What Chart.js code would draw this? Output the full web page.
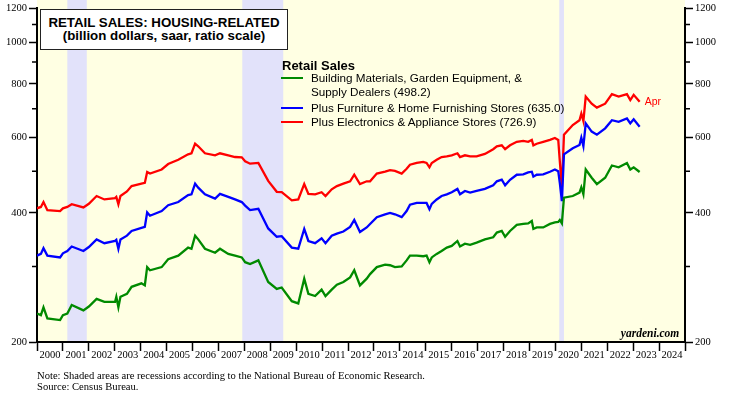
<!DOCTYPE html>
<html>
<head>
<meta charset="utf-8">
<script src="https://cdn.jsdelivr.net/npm/chart.js@4/dist/chart.umd.min.js"></script>
<style>
html,body{margin:0;padding:0;background:#fff;}
#wrap{position:relative;width:733px;height:399px;overflow:hidden;}
#c{position:absolute;left:0;top:0;}
.t{position:absolute;white-space:nowrap;line-height:14px;height:14px;}
#title{position:absolute;left:40px;top:9px;width:248px;height:41px;box-sizing:border-box;border:1.5px solid #222;background:#fff;
  font:bold 13.3px "Liberation Sans",Arial,sans-serif;text-align:center;line-height:13.5px;padding-top:5.75px;color:#000;}
.leg{font:11.7px "Liberation Sans",Arial,sans-serif;color:#000;}
.sw{position:absolute;left:281px;width:22px;height:2px;}
.note{font:10.6px "Liberation Serif","Times New Roman",serif;color:#000;}
</style>
</head>
<body>
<div id="wrap">
<canvas id="c" width="733" height="399"></canvas>
<div id="title">RETAIL SALES: HOUSING-RELATED<br>(billion dollars, saar, ratio scale)</div>
<div class="t" style="left:282px;top:58px;font:bold 13px 'Liberation Sans',Arial,sans-serif;">Retail Sales</div>
<div class="sw" style="top:77.3px;background:#008a00;"></div>
<div class="t leg" style="left:311px;top:71.3px;">Building Materials, Garden Equipment, &amp;</div>
<div class="t leg" style="left:311px;top:84.7px;">Supply Dealers (498.2)</div>
<div class="sw" style="top:106.7px;background:#0000ff;"></div>
<div class="t leg" style="left:311px;top:100.7px;">Plus Furniture &amp; Home Furnishing Stores (635.0)</div>
<div class="sw" style="top:120.7px;background:#ff0000;"></div>
<div class="t leg" style="left:311px;top:114.7px;">Plus Electronics &amp; Appliance Stores (726.9)</div>
<div class="t" style="right:53.7px;top:327px;font:italic bold 11.5px 'Liberation Serif','Times New Roman',serif;">yardeni.com</div>
<div class="t note" style="left:37px;top:369.7px;">Note: Shaded areas are recessions according to the National Bureau of Economic Research.</div>
<div class="t note" style="left:37px;top:381.3px;">Source: Census Bureau.</div>
</div>
<script>
// ---- data (decimal year, billion dollars saar) ----
const dates = [
  2000.00,2000.15,2000.25,2000.40,2000.89,2001.00,2001.17,2001.34,2001.79,2002.00,
  2002.30,2002.60,2003.01,2003.06,2003.14,2003.22,2003.47,2003.65,2004.03,2004.16,
  2004.25,2004.36,2004.81,2005.06,2005.45,2005.83,2005.96,2006.10,2006.22,2006.48,
  2006.87,2007.06,2007.38,2007.64,2007.90,2008.03,2008.22,2008.54,2008.92,2009.25,
  2009.44,2009.83,2010.08,2010.31,2010.47,2010.73,2010.98,2011.13,2011.37,2011.57,
  2011.82,2012.08,2012.24,2012.46,2012.72,2012.85,2013.11,2013.43,2013.62,2013.81,
  2014.07,2014.26,2014.39,2014.65,2014.90,2015.03,2015.14,2015.23,2015.42,2015.61,
  2015.81,2016.00,2016.22,2016.32,2016.51,2016.71,2016.96,2017.28,2017.60,2017.74,
  2017.93,2018.06,2018.25,2018.51,2018.76,2018.95,2019.09,2019.15,2019.28,2019.53,
  2019.79,2019.98,2020.11,2020.17,2020.25,2020.33,2020.67,2020.93,2021.00,2021.08,
  2021.17,2021.40,2021.60,2021.92,2022.18,2022.44,2022.76,2022.89,2023.02,2023.25
];
const building = [
  233,231,241,227,225,231,233,244,237,242,
  252,248,248,255,241,255,259,269,274,271,
  299,294,299,312,318,332,330,354,347,330,
  323,330,321,318,315,307,304,310,276,266,
  268,249,246,281,259,256,265,256,265,272,
  276,283,294,271,281,288,299,303,302,299,
  300,310,318,318,317,318,307,315,321,326,
  332,335,344,334,339,337,341,347,351,360,
  363,352,363,375,377,378,383,367,370,370,
  377,380,381,385,378,434,438,446,459,442,
  505,483,467,483,516,511,523,505,511,498.2
];
const furniture = [
  318,321,331,318,315,322,326,334,326,333,
  347,340,344,346,330,347,354,363,369,371,
  401,394,404,417,424,440,442,468,458,442,
  432,443,436,430,424,416,406,409,368,352,
  353,332,330,367,344,340,349,340,354,358,
  362,371,385,361,370,377,391,397,400,397,
  391,404,418,422,422,422,408,420,430,438,
  442,447,455,442,450,446,450,455,464,474,
  478,464,478,491,492,497,499,486,491,492,
  499,505,500,470,426,548,566,576,599,572,
  647,619,609,630,658,652,664,647,661,635.0
];
const electronics = [
  410,413,424,406,404,410,413,419,412,420,
  438,430,433,436,419,438,449,462,468,470,
  498,494,505,520,532,548,551,580,572,551,
  545,551,545,540,539,528,521,523,475,448,
  447,428,430,467,443,442,447,438,454,462,
  468,474,491,467,474,474,494,499,503,501,
  494,507,518,523,526,523,511,523,532,540,
  542,545,551,540,545,542,542,549,563,572,
  575,563,575,586,589,586,592,575,580,586,
  592,598,592,528,458,609,641,658,682,655,
  747,719,704,719,757,747,757,733,754,726.9
];
const years = [2000,2001,2002,2003,2004,2005,2006,2007,2008,2009,2010,2011,2012,
  2013,2014,2015,2016,2017,2018,2019,2020,2021,2022,2023,2024,2025];
const yMajor = [200,400,600,800,1000,1200];
const yMinor = [300,500,700,900,1100];
const recStart = [2001.17, 2007.92, 2020.15];
const recEnd   = [2001.92, 2009.50, 2020.33];
const lastLabel = 'Apr';

const pts = s => dates.map((d,i)=>({x:d, y:s[i]}));
const tickFont = {family:'"Liberation Serif","Times New Roman",serif', size:10.5};

const deco = {
  id:'deco',
  beforeDraw(chart){
    const {ctx, chartArea:a, scales:{x}} = chart;
    ctx.save();
    ctx.fillStyle = '#ffffe3';
    ctx.fillRect(a.left, 0, a.right - a.left, a.bottom);
    ctx.fillStyle = '#e2e2fa';
    recStart.forEach((s,i)=>{
      const x0 = x.getPixelForValue(s), x1 = x.getPixelForValue(recEnd[i]);
      ctx.fillRect(x0, 0, x1 - x0, a.bottom);
    });
    ctx.restore();
  },
  afterDraw(chart){
    const {ctx, chartArea:a, scales:{y}} = chart;
    ctx.save();
    ctx.strokeStyle = '#000'; ctx.lineWidth = 1.5;
    yMinor.forEach(v=>{
      const py = y.getPixelForValue(v);
      ctx.beginPath();
      ctx.moveTo(a.left-5, py); ctx.lineTo(a.left, py);
      ctx.moveTo(a.right, py); ctx.lineTo(a.right+5, py);
      ctx.stroke();
    });
    const meta = chart.getDatasetMeta(2);
    const p = meta.data[meta.data.length-1];
    ctx.fillStyle = '#ff0000';
    ctx.font = '10.5px "Liberation Sans", Arial, sans-serif';
    ctx.textBaseline = 'middle';
    ctx.fillText(lastLabel, p.x + 5, p.y);
    ctx.restore();
  }
};

const yAxis = (pos, w) => ({
  type:'logarithmic', position:pos, min:200, max:1200,
  afterFit: s => { s.width = w; },
  afterBuildTicks: s => { s.ticks = yMajor.map(v=>({value:v})); },
  ticks:{padding:2, font:tickFont, color:'#000', callback:v=>String(v)},
  grid:{drawOnChartArea:false, tickLength:8, tickWidth:1.5, tickColor:'#000'},
  border:{display:true, color:'#000', width:2}
});

new Chart(document.getElementById('c'), {
  type:'line',
  data:{datasets:[
    {label:'Building Materials, Garden Equipment, & Supply Dealers', data:pts(building),
     borderColor:'#008a00', borderWidth:2.3, pointRadius:0, tension:0, yAxisID:'y'},
    {label:'Plus Furniture & Home Furnishing Stores', data:pts(furniture),
     borderColor:'#0000ff', borderWidth:2.3, pointRadius:0, tension:0, yAxisID:'y'},
    {label:'Plus Electronics & Appliance Stores', data:pts(electronics),
     borderColor:'#ff0000', borderWidth:2.3, pointRadius:0, tension:0, yAxisID:'y'}
  ]},
  options:{
    responsive:false, animation:false, devicePixelRatio:1,
    layout:{padding:{top:6, left:0, right:0, bottom:0}},
    plugins:{legend:{display:false}, tooltip:{enabled:false}},
    scales:{
      x:{type:'linear', min:2000, max:2025,
         afterFit: s => { s.height = 57; },
         afterBuildTicks: s => { s.ticks = years.map(v=>({value:v})); },
         ticks:{autoSkip:false, maxRotation:0, minRotation:0, padding:-2, labelOffset:13,
                font:tickFont, color:'#000', callback:v => v < 2025 ? String(v) : ''},
         grid:{drawOnChartArea:false, tickLength:9, tickWidth:1.5, tickColor:'#000'},
         border:{display:true, color:'#000', width:2}},
      y: yAxis('left', 37),
      y2: yAxis('right', 48)
    }
  },
  plugins:[deco]
});
</script>
</body>
</html>
